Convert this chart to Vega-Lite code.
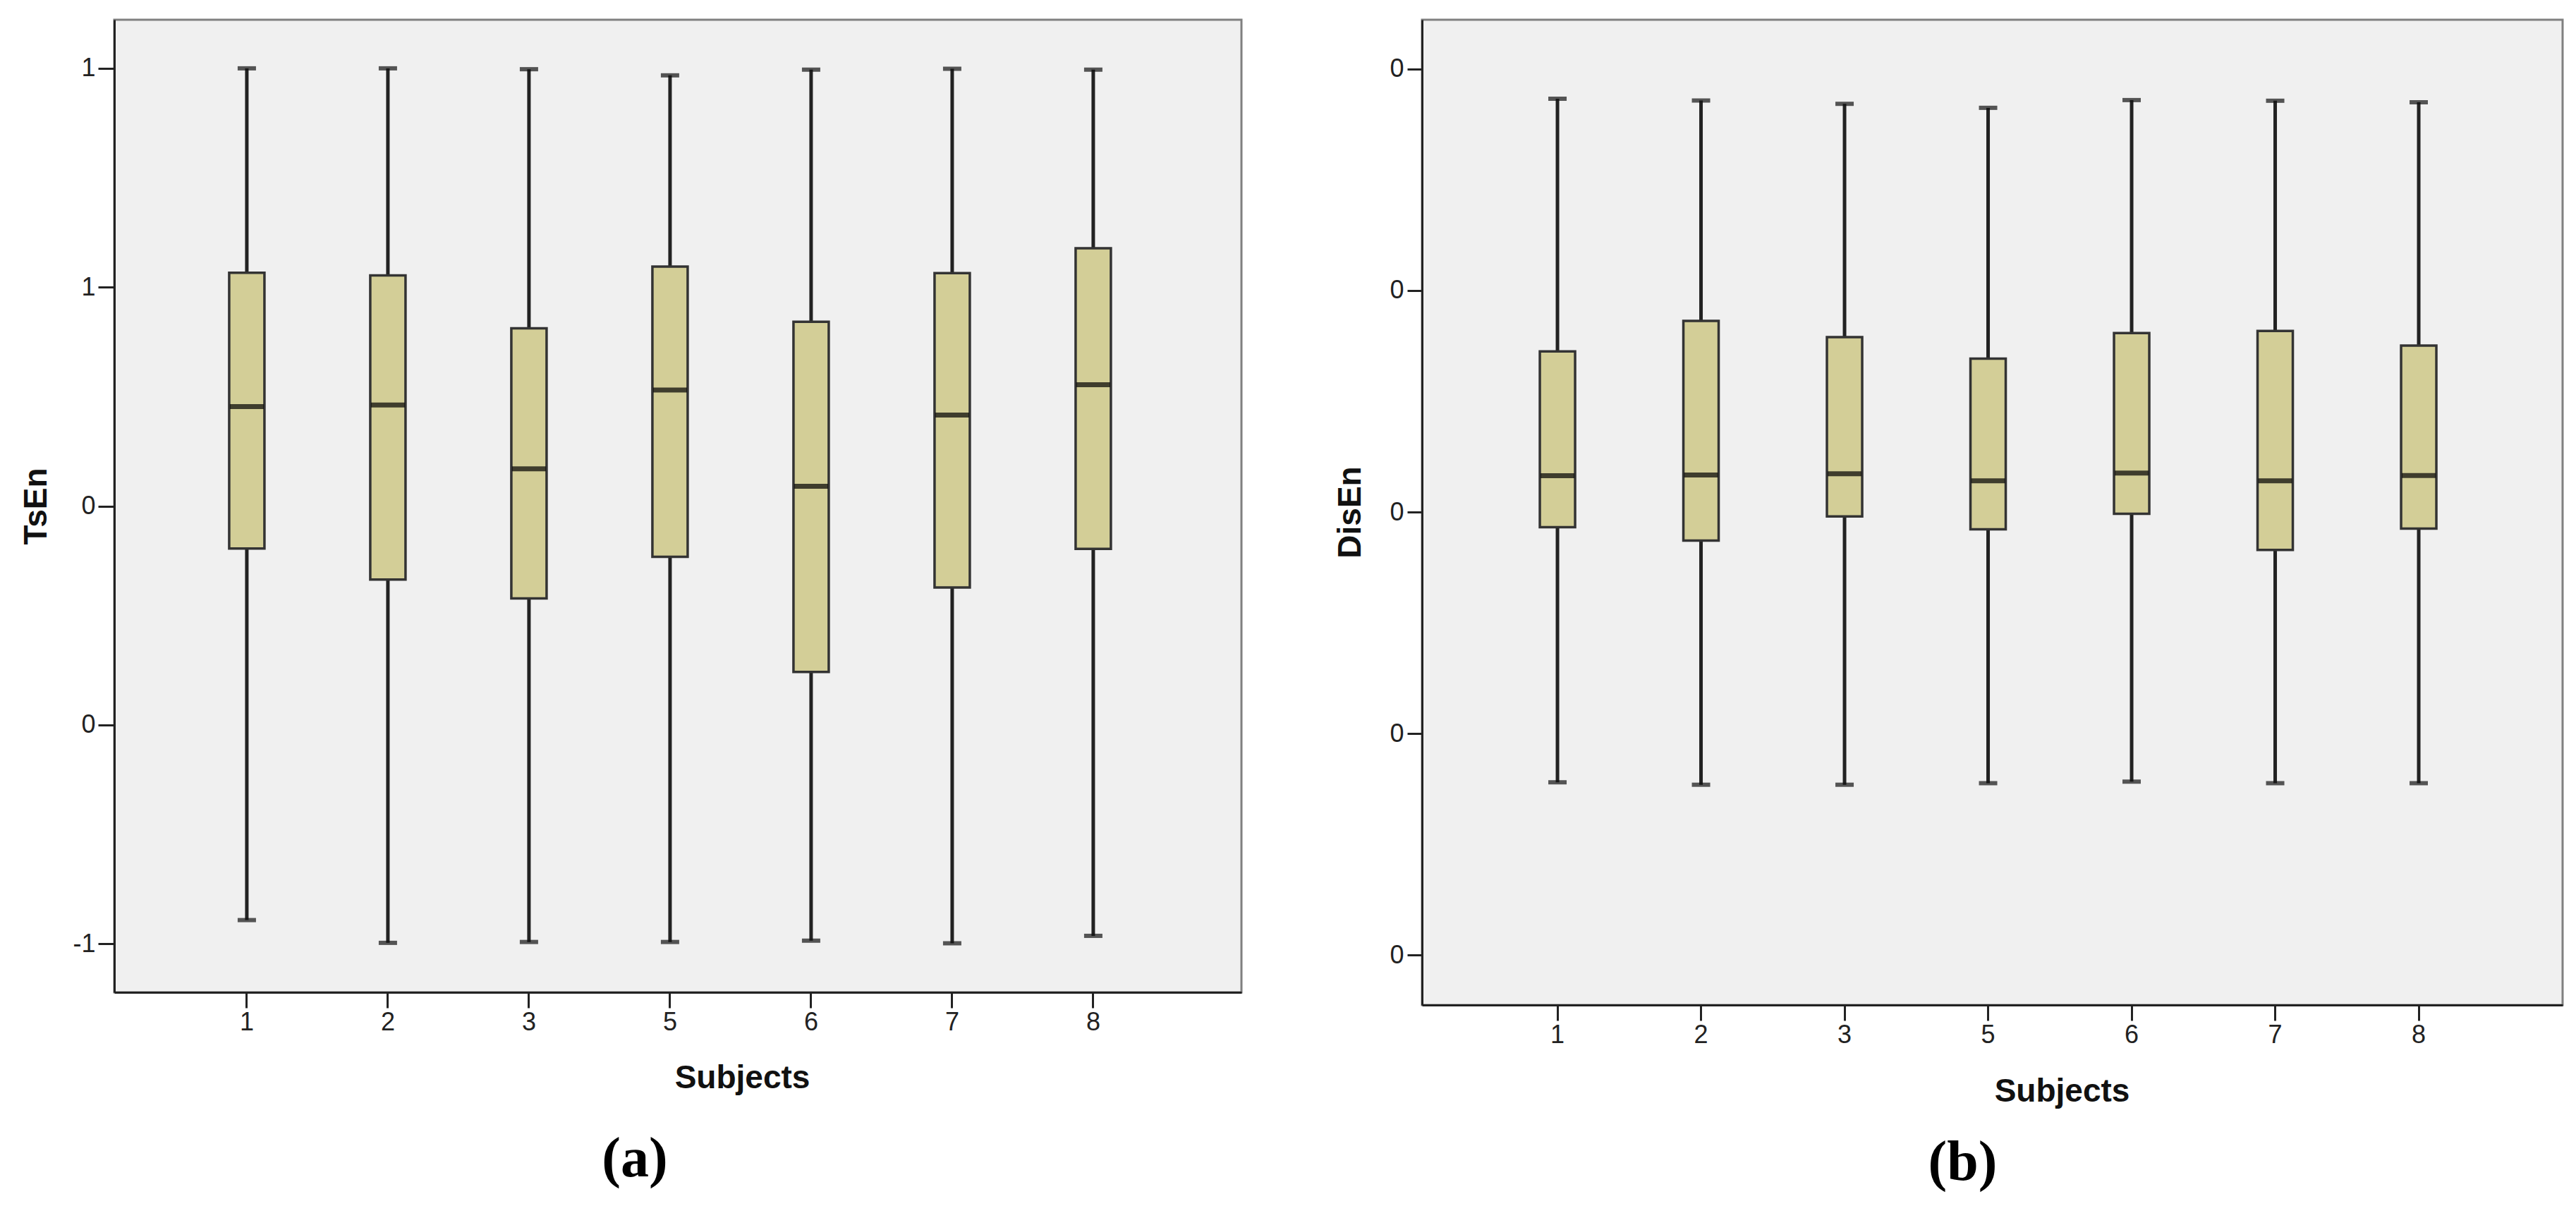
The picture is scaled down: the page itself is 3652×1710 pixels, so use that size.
{
  "$schema": "https://vega.github.io/schema/vega-lite/v6.json",
  "padding": {"left": 26, "top": 26, "right": 10, "bottom": 10},
  "background": "white",
  "spacing": 127,
  "datasets": {
    "tsen": [
      {"subject": "1", "lower": -0.946, "q1": -0.097, "median": 0.227, "q3": 0.533, "upper": 1.0},
      {"subject": "2", "lower": -0.998, "q1": -0.168, "median": 0.231, "q3": 0.527, "upper": 1.0},
      {"subject": "3", "lower": -0.996, "q1": -0.211, "median": 0.085, "q3": 0.406, "upper": 0.998},
      {"subject": "5", "lower": -0.996, "q1": -0.116, "median": 0.265, "q3": 0.547, "upper": 0.984},
      {"subject": "6", "lower": -0.993, "q1": -0.379, "median": 0.045, "q3": 0.421, "upper": 0.997},
      {"subject": "7", "lower": -0.999, "q1": -0.186, "median": 0.208, "q3": 0.532, "upper": 0.999},
      {"subject": "8", "lower": -0.982, "q1": -0.098, "median": 0.277, "q3": 0.589, "upper": 0.997}
    ],
    "disen": [
      {"subject": "1", "lower": 0.078, "q1": 0.1932, "median": 0.2164, "q3": 0.2725, "upper": 0.3866},
      {"subject": "2", "lower": 0.0769, "q1": 0.1871, "median": 0.2167, "q3": 0.2863, "upper": 0.3858},
      {"subject": "3", "lower": 0.0769, "q1": 0.198, "median": 0.2173, "q3": 0.279, "upper": 0.3843},
      {"subject": "5", "lower": 0.0776, "q1": 0.1922, "median": 0.2141, "q3": 0.2693, "upper": 0.3825},
      {"subject": "6", "lower": 0.0783, "q1": 0.1992, "median": 0.2176, "q3": 0.2808, "upper": 0.386},
      {"subject": "7", "lower": 0.0776, "q1": 0.1829, "median": 0.2141, "q3": 0.2818, "upper": 0.3857},
      {"subject": "8", "lower": 0.0776, "q1": 0.1925, "median": 0.2165, "q3": 0.2752, "upper": 0.385}
    ]
  },
  "config": {
    "view": {"fill": "#f0f0f0", "stroke": "#808080", "strokeWidth": 3},
    "axis": {
      "grid": false,
      "labelFont": "Liberation Sans",
      "labelFontSize": 36,
      "labelColor": "#222222",
      "tickColor": "#222222",
      "tickWidth": 3,
      "domainColor": "#222222",
      "domainWidth": 3,
      "titleFont": "Liberation Sans",
      "titleFontWeight": "bold",
      "titleFontSize": 46,
      "titleColor": "#111111"
    }
  },
  "hconcat": [
    {
      "width": 1598,
      "height": 1379,
      "data": {"name": "tsen"},
      "title": {"text": "(a)", "orient": "bottom", "font": "Liberation Serif", "fontSize": 80, "fontWeight": "bold", "color": "#000000", "anchor": "middle", "frame": "group", "dx": -61, "offset": 54},
      "encoding": {
        "x": {
          "field": "subject", "type": "ordinal", "sort": ["1", "2", "3", "5", "6", "7", "8"],
          "scale": {"type": "band", "paddingInner": 0, "paddingOuter": 0.495, "align": 0.444},
          "axis": {"title": "Subjects", "labelAngle": 0, "tickSize": 22, "labelPadding": 3, "titleX": 890, "titleY": 135, "titleBaseline": "alphabetic", "titleAlign": "center"}
        }
      },
      "layer": [
        {
          "mark": {"type": "rule", "color": "#222222", "strokeWidth": 5},
          "encoding": {
            "y": {"field": "lower", "type": "quantitative", "scale": {"domain": [-1.111, 1.111], "nice": false, "zero": false},
              "axis": {"title": "TsEn", "values": [1, 0.5, 0, -0.5, -1], "labelExpr": "datum.value >= 0.5 ? '1' : (datum.value <= -1 ? '-1' : '0')", "tickSize": 23, "labelPadding": 4, "titleX": -111, "titleY": 689.5, "titleBaseline": "middle"}},
            "y2": {"field": "upper"}
          }
        },
        {
          "mark": {"type": "tick", "color": "#111111", "size": 26, "thickness": 6},
          "encoding": {"y": {"field": "lower", "type": "quantitative"}}
        },
        {
          "mark": {"type": "tick", "color": "#111111", "size": 26, "thickness": 6},
          "encoding": {"y": {"field": "upper", "type": "quantitative"}}
        },
        {
          "mark": {"type": "bar", "size": 50, "fill": "#d3ce97", "stroke": "#333333", "strokeWidth": 3.5},
          "encoding": {"y": {"field": "q1", "type": "quantitative"}, "y2": {"field": "q3"}}
        },
        {
          "mark": {"type": "tick", "color": "#000000", "size": 48, "thickness": 7},
          "encoding": {"y": {"field": "median", "type": "quantitative"}}
        }
      ]
    },
    {
      "width": 1617,
      "height": 1397,
      "data": {"name": "disen"},
      "title": {"text": "(b)", "orient": "bottom", "font": "Liberation Serif", "fontSize": 80, "fontWeight": "bold", "color": "#000000", "anchor": "middle", "frame": "group", "dx": -42, "offset": 40},
      "encoding": {
        "x": {
          "field": "subject", "type": "ordinal", "sort": ["1", "2", "3", "5", "6", "7", "8"],
          "scale": {"type": "band", "paddingInner": 0, "paddingOuter": 0.473, "align": 0.469},
          "axis": {"title": "Subjects", "labelAngle": 0, "tickSize": 22, "labelPadding": 3, "titleX": 907, "titleY": 136, "titleBaseline": "alphabetic", "titleAlign": "center"}
        }
      },
      "layer": [
        {
          "mark": {"type": "rule", "color": "#222222", "strokeWidth": 5},
          "encoding": {
            "y": {"field": "lower", "type": "quantitative", "scale": {"domain": [-0.02254, 0.42226], "nice": false, "zero": false},
              "axis": {"title": "DisEn", "values": [0, 0.1, 0.2, 0.3, 0.4], "labelExpr": "'0'", "tickSize": 21, "labelPadding": 5, "titleX": -102, "titleY": 698, "titleBaseline": "middle"}},
            "y2": {"field": "upper"}
          }
        },
        {
          "mark": {"type": "tick", "color": "#111111", "size": 26, "thickness": 6},
          "encoding": {"y": {"field": "lower", "type": "quantitative"}}
        },
        {
          "mark": {"type": "tick", "color": "#111111", "size": 26, "thickness": 6},
          "encoding": {"y": {"field": "upper", "type": "quantitative"}}
        },
        {
          "mark": {"type": "bar", "size": 50, "fill": "#d3ce97", "stroke": "#333333", "strokeWidth": 3.5},
          "encoding": {"y": {"field": "q1", "type": "quantitative"}, "y2": {"field": "q3"}}
        },
        {
          "mark": {"type": "tick", "color": "#000000", "size": 48, "thickness": 7},
          "encoding": {"y": {"field": "median", "type": "quantitative"}}
        }
      ]
    }
  ]
}
